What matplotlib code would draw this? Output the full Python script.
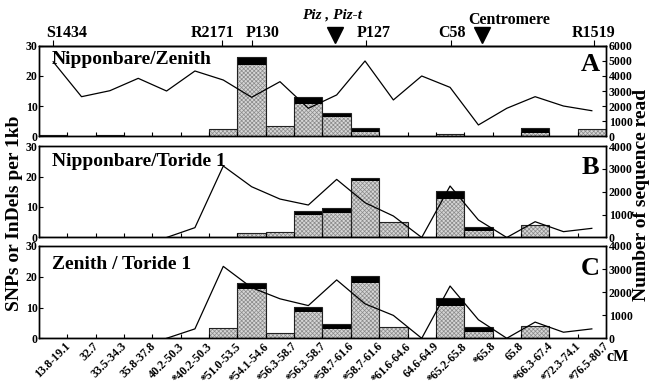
import matplotlib
matplotlib.use('Agg')
import matplotlib.pyplot as plt
import matplotlib.transforms as mtransforms
import numpy as np

plt.rcParams['font.family'] = ['Liberation Serif', 'DejaVu Serif']
plt.rcParams['font.weight'] = 'bold'
plt.rcParams['hatch.linewidth'] = 0.5
plt.rcParams['axes.linewidth'] = 1.0

nan = np.nan

# 区间 (cM)
cats = ['13.8-19.1', '32.7', '33.5-34.3', '35.8-37.8', '40.2-50.3', '*40.2-50.3',
        '*51.0-53.5', '*54.1-54.6', '*56.3-58.7', '*56.3-58.7', '*58.7-61.6',
        '*58.7-61.6', '*61.6-64.6', '64.6-64.9', '*65.2-65.8', '*65.8', '65.8',
        '*66.3-67.4', '*72.3-74.1', '*76.5-80.7']

# A: Nipponbare/Zenith
a_snp = [0, 0, 0, 0, 0, 0, 2.5, 23.6, 3.2, 10.6, 6.5, 1.6, 0, 0, 0.8, 0, 0, 1.1, 0, 2.4]
a_indel = [0.4, 0, 0.4, 0, 0, 0, 0, 2.5, 0.4, 2.3, 1.35, 1.3, 0.3, 0, 0, 0, 0, 1.6, 0, 0]
a_reads = [4930, 2625, 3020, 3835, 3000, 4320, 3725, 2585, 3615, 1860,
           2740, 4980, 2410, 3990, 3240, 760, 1860, 2625, 2010, 1700]

# B: Nipponbare/Toride 1
b_snp = [0, 0, 0, 0, 0, 0, 0, 1.4, 1.7, 7.4, 8.1, 18.5, 5.0, 0, 12.6, 2.1, 0, 4.1, 0, 0]
b_indel = [0, 0, 0, 0, 0, 0, 0, 0, 0, 1.4, 1.7, 0.9, 0, 0, 2.6, 1.4, 0, 0, 0, 0]
b_reads = [nan, nan, nan, nan, 0, 430, 3125, 2220, 1680, 1420,
           2540, 1520, 940, 0, 2250, 765, 0, 690, 255, 400]

# C: Zenith / Toride 1
c_snp = [0, 0, 0, 0, 0, 0, 2.9, 16.1, 1.4, 8.7, 3.0, 17.9, 3.6, 0, 10.6, 2.2, 0, 4.0, 0, 0]
c_indel = [0, 0, 0, 0, 0, 0, 0.5, 2.0, 0.2, 1.6, 1.6, 2.4, 0, 0, 2.6, 1.6, 0, 0, 0, 0]
c_reads = [nan, nan, nan, nan, 0, 408, 3117, 2195, 1712, 1418,
           2530, 1493, 992, 0, 2265, 803, 0, 702, 263, 408]

# 顶部标记
markers = ['S1434', 'R2171', 'P130', 'P127', 'C58', 'R1519']
marker_x = [0.50, 6.44, 7.50, 11.53, 14.53, 19.58]
marker_label_x = [0.99, 6.14, 7.88, 11.82, 14.57, 19.58]
arrow_x = [10.44, 15.63]

panels = [
    ('Nipponbare/Zenith', 'A', a_snp, a_indel, a_reads, 6000, 0.85, 0.79),
    ('Nipponbare/Toride 1', 'B', b_snp, b_indel, b_reads, 4000, 0.83, 0.77),
    ('Zenith / Toride 1', 'C', c_snp, c_indel, c_reads, 4000, 0.80, 0.76),
]
bottoms = [0.6482, 0.3879, 0.1281]
heights = [0.2345, 0.2358, 0.2379]

fig = plt.figure(figsize=(6.5, 3.88), dpi=100)
x = np.arange(len(cats)) + 0.5

axes = []
for (title, letter, snp, indel, reads, rmax, ty, ly), b, h in zip(panels, bottoms, heights):
    ax = fig.add_axes([0.06, b, 0.8723, h])
    snp = np.array(snp)
    indel = np.array(indel)
    ax.bar(x, snp, 1, color='#d6d6d6', edgecolor='#8a8a8a', hatch='xxxxxxxx', linewidth=0)
    ax.bar(x, indel, 1, bottom=snp, color='black', linewidth=0)
    ax.bar(x, snp + indel, 1, fill=False, edgecolor='#222222', linewidth=0.8)
    ax.set_xlim(0, 20)
    ax.set_ylim(0, 30)
    ax.set_yticks([0, 10, 20, 30])
    ax.tick_params(axis='y', direction='in', length=3, pad=1, labelsize=8.5)
    ax.set_xticks(np.arange(1, 20))
    ax.tick_params(axis='x', which='major', direction='in', length=3, labelbottom=False)
    ax.text(0.023, ty, title, transform=ax.transAxes, fontsize=14, va='center', ha='left')
    ax.text(0.972, ly, letter, transform=ax.transAxes, fontsize=19, va='center', ha='center')

    ax2 = ax.twinx()
    ax2.plot(x, reads, color='black', linewidth=0.9)
    ax2.set_ylim(0, rmax)
    ax2.set_yticks(np.arange(0, rmax + 1, 1000))
    ax2.tick_params(axis='y', direction='in', length=3, pad=2, labelsize=8.5)
    axes.append(ax)

# 底部刻度标签
axC = axes[2]
axC.set_xticks(x + 0.4, labels=cats, minor=True)
axC.tick_params(axis='x', which='minor', length=0, pad=1.5, labelsize=8.5)
for lab in axC.get_xticklabels(minor=True):
    lab.set_rotation(45)
    lab.set_ha('right')
    lab.set_rotation_mode('anchor')

# 顶部标记与箭头
axA = axes[0]
sec = axA.secondary_xaxis('top')
sec.set_xticks(marker_x)
sec.tick_params(direction='out', length=4.5, labeltop=False)
trans = mtransforms.blended_transform_factory(axA.transData, axA.transAxes)
for name, lx in zip(markers, marker_label_x):
    axA.text(lx, 1.14, name, transform=trans, ha='center', va='center', fontsize=11.5)
axA.plot(arrow_x, [1.115, 1.115], 'v', color='black', markersize=11,
         transform=trans, clip_on=False)
axA.text(10.34, 1.335, 'Piz , Piz-t', transform=trans, ha='center', va='center',
         fontsize=11, style='italic')
axA.text(16.58, 1.28, 'Centromere', transform=trans, ha='center', va='center', fontsize=11.5)

fig.text(15 / 650, 0.45, 'SNPs or InDels per 1kb', rotation=90, ha='center', va='center', fontsize=14)
fig.text(641 / 650, 0.497, 'Number of sequence read', rotation=90, ha='center', va='center', fontsize=14)
fig.text(618 / 650, 1 - 357 / 388, 'cM', ha='center', va='center', fontsize=11.5)

fig.savefig('out.png', dpi=100)
